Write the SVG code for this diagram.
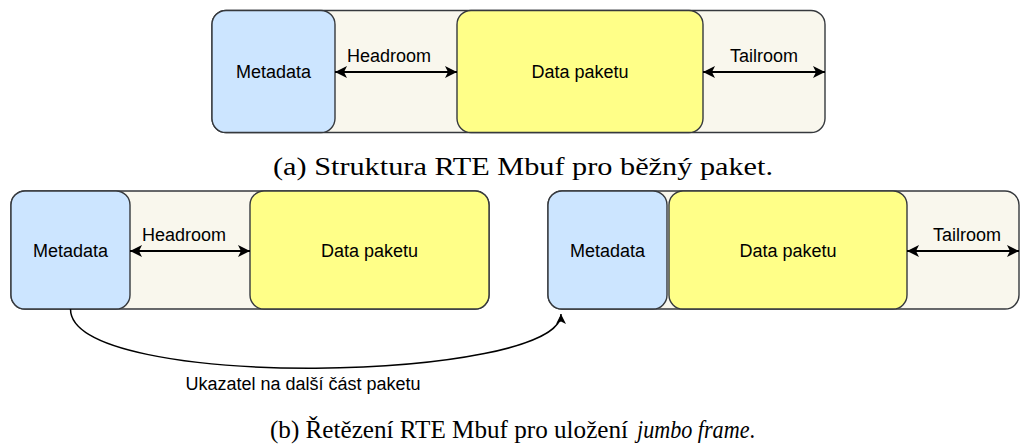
<svg xmlns="http://www.w3.org/2000/svg" width="1020" height="448" viewBox="0 0 1020 448">
  <style>
    .frame { fill: #f9f7ed; stroke: #36393d; stroke-width: 1.4; }
    .meta { fill: #cce5ff; stroke: #36393d; stroke-width: 1.4; }
    .data { fill: #ffff88; stroke: #36393d; stroke-width: 1.4; }
    .lbl { font-family: "Liberation Sans", Arial, sans-serif; font-size: 18px; fill: #000; text-anchor: middle; }
    .cap { font-family: "Liberation Serif", "Times New Roman", serif; font-size: 25px; fill: #000; }
    .dbl { stroke: #000; stroke-width: 2; fill: none; marker-start: url(#head); marker-end: url(#head); }
    .link { stroke: #000; stroke-width: 1.5; fill: none; marker-end: url(#headSmall); }
  </style>
  <defs>
    <marker id="head" markerUnits="userSpaceOnUse" markerWidth="14" markerHeight="14" refX="12" refY="6" orient="auto-start-reverse">
      <path d="M0,0 L12,6 L0,12 L3,6 Z" fill="#000"/>
    </marker>
    <marker id="headSmall" markerUnits="userSpaceOnUse" markerWidth="12" markerHeight="12" refX="10" refY="5" orient="auto">
      <path d="M0,0 L10,5 L0,10 L2.5,5 Z" fill="#000"/>
    </marker>
  </defs>

  <!-- (a) single mbuf -->
  <g id="mbuf-a">
    <rect class="frame" x="212" y="10.5" width="613" height="122" rx="14"/>
  </g>
  <g id="meta-a">
    <rect class="meta" x="212" y="10.5" width="123" height="122" rx="14"/>
    <text class="lbl" x="273.5" y="78">Metadata</text>
  </g>
  <g id="data-a">
    <rect class="data" x="457" y="10.5" width="246" height="122" rx="14"/>
    <text class="lbl" x="580" y="78">Data paketu</text>
  </g>

  <!-- (b) chained mbufs -->
  <g id="mbuf-b1">
    <rect class="frame" x="11" y="191" width="478" height="118" rx="14"/>
  </g>
  <g id="meta-b1">
    <rect class="meta" x="11" y="191" width="119" height="118" rx="14"/>
    <text class="lbl" x="70.5" y="257">Metadata</text>
  </g>
  <g id="data-b1">
    <rect class="data" x="250" y="191" width="239" height="118" rx="14"/>
    <text class="lbl" x="369.5" y="257">Data paketu</text>
  </g>

  <g id="mbuf-b2">
    <rect class="frame" x="548" y="191" width="471" height="118" rx="14"/>
  </g>
  <g id="meta-b2">
    <rect class="meta" x="548" y="191" width="119" height="118" rx="14"/>
    <text class="lbl" x="607.5" y="257">Metadata</text>
  </g>
  <g id="data-b2">
    <rect class="data" x="669" y="191" width="238" height="118" rx="14"/>
    <text class="lbl" x="788" y="257">Data paketu</text>
  </g>

  <!-- connectors -->
  <g id="connectors">
    <line class="dbl" x1="335" y1="72" x2="457" y2="72"/>
    <text class="lbl" x="389" y="62">Headroom</text>
    <line class="dbl" x1="703" y1="72" x2="825" y2="72"/>
    <text class="lbl" x="764" y="62">Tailroom</text>

    <line class="dbl" x1="130" y1="251" x2="250" y2="251"/>
    <text class="lbl" x="184" y="241">Headroom</text>
    <line class="dbl" x1="907" y1="251" x2="1019" y2="251"/>
    <text class="lbl" x="967" y="241">Tailroom</text>

    <path class="link" d="M70.5,309 C70.5,392 561,382 561,314"/>
    <text class="lbl" x="303" y="390">Ukazatel na další část paketu</text>
  </g>

  <!-- captions -->
  <text class="cap" x="273" y="175" textLength="500" lengthAdjust="spacingAndGlyphs">(a) Struktura RTE Mbuf pro běžný paket.</text>
  <text class="cap" x="270" y="438" textLength="358" lengthAdjust="spacingAndGlyphs">(b) Řetězení RTE Mbuf pro uložení</text>
  <text class="cap" x="637" y="438" font-style="italic" textLength="118" lengthAdjust="spacingAndGlyphs">jumbo frame<tspan font-style="normal">.</tspan></text>
</svg>
